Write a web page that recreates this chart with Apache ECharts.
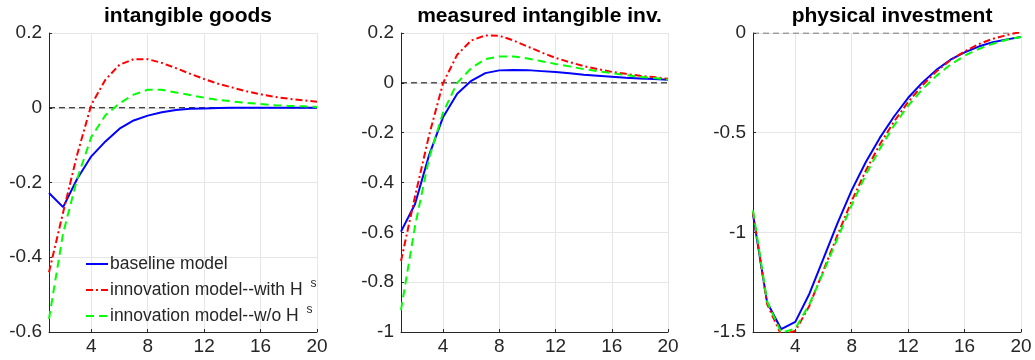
<!DOCTYPE html>
<html>
<head>
<meta charset="utf-8">
<script src="https://cdn.jsdelivr.net/npm/echarts@6/dist/echarts.min.js"></script>
<style>
  html, body { margin: 0; padding: 0; background: #fff; }
  #chartRoot { width: 1035px; height: 360px; }
</style>
</head>
<body>
<div id="chartRoot"></div>
<script>
// quarters after the shock
const periods = [1, 2, 3, 4, 5, 6, 7, 8, 9, 10, 11, 12, 13, 14, 15, 16, 17, 18, 19, 20];
const xTicks = [4, 8, 12, 16, 20];

// intangible goods
const goodsBase = [-0.228, -0.266, -0.19, -0.13, -0.090, -0.056, -0.034, -0.021, -0.012, -0.006,
  -0.003, -0.002, -0.001, 0, 0, 0, 0, 0, 0, 0];
const goodsWith = [-0.44, -0.28, -0.125, 0.008, 0.075, 0.115, 0.130, 0.130, 0.120, 0.106,
  0.091, 0.077, 0.064, 0.054, 0.044, 0.036, 0.029, 0.024, 0.020, 0.016];
const goodsWo = [-0.565, -0.336, -0.19, -0.078, -0.02, 0.012, 0.035, 0.048, 0.048, 0.041,
  0.034, 0.027, 0.021, 0.017, 0.013, 0.010, 0.007, 0.005, 0.004, 0.002];

// measured intangible inv.
const measBase = [-0.597, -0.486, -0.29, -0.137, -0.044, 0.008, 0.039, 0.050, 0.052, 0.051,
  0.047, 0.043, 0.038, 0.032, 0.028, 0.024, 0.020, 0.017, 0.015, 0.012];
const measWith = [-0.715, -0.455, -0.21, 0.0, 0.113, 0.170, 0.190, 0.189, 0.170, 0.146,
  0.122, 0.100, 0.083, 0.067, 0.055, 0.044, 0.036, 0.028, 0.023, 0.016];
const measWo = [-0.912, -0.575, -0.302, -0.118, 0.0, 0.059, 0.095, 0.106, 0.106, 0.098,
  0.087, 0.076, 0.066, 0.055, 0.047, 0.039, 0.031, 0.024, 0.019, 0.013];

// physical investment
const physBase = [-0.91, -1.351, -1.486, -1.449, -1.308, -1.131, -0.953, -0.788, -0.647, -0.525,
  -0.419, -0.325, -0.249, -0.185, -0.134, -0.097, -0.068, -0.046, -0.032, -0.020];
const physWith = [-0.90, -1.36, -1.515, -1.495, -1.368, -1.19, -1.012, -0.842, -0.69, -0.558,
  -0.444, -0.346, -0.263, -0.193, -0.136, -0.092, -0.056, -0.029, -0.010, 0.005];
const physWo = [-0.89, -1.347, -1.503, -1.483, -1.36, -1.198, -1.029, -0.863, -0.71, -0.58,
  -0.464, -0.364, -0.283, -0.215, -0.159, -0.114, -0.080, -0.054, -0.034, -0.020];

const titles = ["intangible goods", "measured intangible inv.", "physical investment"];
const seriesNames = ["baseline model", "innovation model--with H s", "innovation model--w/o H s"];

const txt = "#262626";
const font = "'Liberation Sans', Arial, Helvetica, sans-serif";

const panels = [
  { left: 49, right: 718, min: -0.6, max: 0.2, interval: 0.2, data: [goodsBase, goodsWith, goodsWo] },
  { left: 401, right: 367, min: -1, max: 0.2, interval: 0.2, data: [measBase, measWith, measWo] },
  { left: 753, right: 14, min: -1.5, max: 0, interval: 0.5, data: [physBase, physWith, physWo] },
];

const lineStyles = [
  { color: "#0000ff", type: "solid" },
  { color: "#ff0000", type: [7, 3, 2, 3] },
  { color: "#00ff00", type: [8, 5] },
];

const pairs = (arr) => periods.map((p, i) => [p, arr[i]]);

function fmtY(v) {
  const r = Math.round(v * 10) / 10;
  return r === 0 ? "0" : String(r);
}

const chartDom = document.getElementById("chartRoot");
const myChart = echarts.init(chartDom);

const grid = [];
const xAxis = [];
const yAxis = [];
const title = [];
const series = [];

panels.forEach((pn, k) => {
  grid.push({ left: pn.left, right: pn.right, top: 33, bottom: 28 });
  const plotW = 1035 - pn.left - pn.right;
  title.push({
    text: titles[k],
    left: pn.left + plotW / 2,
    textAlign: "center",
    top: 1,
    textStyle: { fontFamily: font, fontWeight: "bold", fontSize: 21, color: "#000" },
  });
  xAxis.push({
    type: "value",
    gridIndex: k,
    min: 1,
    max: 20,
    axisLine: { show: true, onZero: false, lineStyle: { color: txt, width: 1 } },
    axisTick: { show: true, inside: true, length: 3, customValues: xTicks, lineStyle: { color: txt } },
    axisLabel: { customValues: xTicks, color: txt, fontSize: 19, fontFamily: font, margin: 5 },
    splitLine: { show: true, lineStyle: { color: "#e6e6e6" } },
  });
  yAxis.push({
    type: "value",
    gridIndex: k,
    min: pn.min,
    max: pn.max,
    interval: pn.interval,
    axisLine: { show: true, onZero: false, lineStyle: { color: txt, width: 1 } },
    axisTick: { show: true, inside: true, length: 3, lineStyle: { color: txt } },
    axisLabel: { color: txt, fontSize: 19, fontFamily: font, margin: 7, formatter: fmtY },
    splitLine: { show: true, lineStyle: { color: "#e6e6e6" } },
  });
  pn.data.forEach((arr, j) => {
    series.push({
      name: seriesNames[j],
      type: "line",
      xAxisIndex: k,
      yAxisIndex: k,
      data: pairs(arr),
      symbol: "none",
      lineStyle: { width: 2, color: lineStyles[j].color, type: lineStyles[j].type },
      itemStyle: { color: lineStyles[j].color },
      z: 3 + j,
    });
  });
  // zero reference line
  series.push({
    name: "zero" + k,
    type: "line",
    xAxisIndex: k,
    yAxisIndex: k,
    data: [[1, 0], [20, 0]],
    symbol: "none",
    silent: true,
    lineStyle: { width: 1, color: k === 2 ? "#555" : "#000", type: [6, 4] },
    z: 2,
  });
});

const option = {
  animation: false,
  title: title,
  grid: grid,
  xAxis: xAxis,
  yAxis: yAxis,
  legend: {
    data: seriesNames,
    orient: "vertical",
    left: 80,
    top: 250,
    itemGap: 5,
    itemWidth: 22,
    itemHeight: 14,
    itemStyle: { color: "transparent", borderWidth: 0, opacity: 0 },
    formatter: (name) => name.replace(/H s$/, "H {sup|s}"),
    textStyle: {
      fontFamily: font,
      fontSize: 17.5,
      color: txt,
      padding: [0, 0, 0, -3],
      rich: {
        sup: { fontSize: 12, verticalAlign: "top", padding: [0, 0, 12, 3], fontFamily: font, color: txt },
      },
    },
  },
  series: series,
};

myChart.setOption(option);
</script>
</body>
</html>
